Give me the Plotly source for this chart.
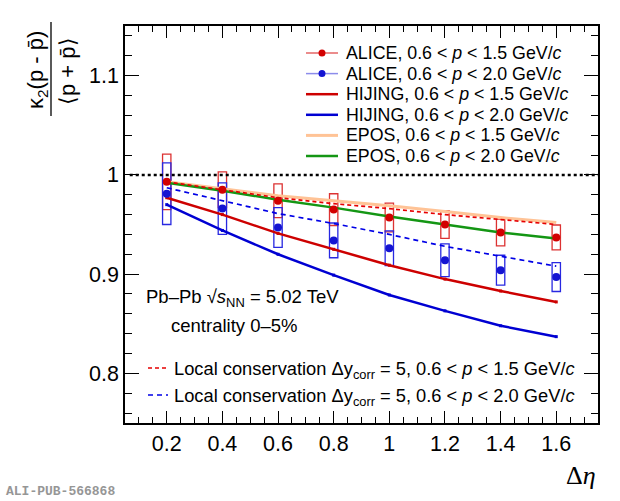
import plotly.graph_objs as go

# delta eta bins
deta = [0.2, 0.4, 0.6, 0.8, 1.0, 1.2, 1.4, 1.6]

# ALICE data, two momentum ranges, with systematic uncertainties
alice_15 = [0.993, 0.985, 0.974, 0.965, 0.957, 0.950, 0.942, 0.937]
alice_15_sys = [0.028, 0.018, 0.017, 0.016, 0.0145, 0.014, 0.0135, 0.0125]
alice_20 = [0.981, 0.966, 0.947, 0.934, 0.926, 0.914, 0.904, 0.897]
alice_20_sys = [0.031, 0.026, 0.020, 0.0175, 0.0175, 0.0165, 0.015, 0.0145]

# models
hijing_15 = [0.977, 0.960, 0.941, 0.925, 0.909, 0.895, 0.883, 0.872]
hijing_20 = [0.970, 0.944, 0.920, 0.899, 0.879, 0.863, 0.848, 0.837]
epos_15 = [0.993, 0.986, 0.979, 0.974, 0.969, 0.963, 0.957, 0.952]
epos_20 = [0.992, 0.984, 0.975, 0.967, 0.958, 0.950, 0.942, 0.936]
lc_15 = [0.993, 0.985, 0.977, 0.971, 0.966, 0.960, 0.955, 0.950]
lc_20 = [0.987, 0.974, 0.961, 0.951, 0.940, 0.928, 0.918, 0.908]

FONT = "Liberation Sans"
RED = "rgb(210,0,0)"
BLUE = "rgb(20,20,210)"
box_hw = 0.015

# plot area in pixels (used to place legend / labels in paper coords)
L, R, T, B = 125, 598, 26, 423
def px(x):
    return (x - L) / (R - L)
def py(y):
    return (B - y) / (B - T)

lbl15 = "0.6 < <i>p</i> < 1.5 GeV/<i>c</i>"
lbl20 = "0.6 < <i>p</i> < 2.0 GeV/<i>c</i>"

styles = {
    "alice15": dict(color="rgb(235,140,140)", width=2),
    "alice20": dict(color="rgb(140,140,235)", width=1.5),
    "hijing15": dict(color="rgb(205,0,0)", width=2.5),
    "hijing20": dict(color="rgb(0,0,210)", width=2.5),
    "epos15": dict(color="rgb(255,195,150)", width=3),
    "epos20": dict(color="rgb(20,150,20)", width=2.5),
    "lc15": dict(color="rgb(230,0,0)", width=1.7, dash="4px,3px"),
    "lc20": dict(color="rgb(0,0,230)", width=1.7, dash="5px,4px"),
}

data = []
data.append(go.Scatter(x=deta, y=hijing_15, mode="lines+markers", line=styles["hijing15"],
                       marker=dict(size=3, symbol="square")))
data.append(go.Scatter(x=deta, y=hijing_20, mode="lines+markers", line=styles["hijing20"],
                       marker=dict(size=3, symbol="square")))
data.append(go.Scatter(x=deta, y=epos_15, mode="lines", line=styles["epos15"]))
data.append(go.Scatter(x=deta, y=epos_20, mode="lines", line=styles["epos20"]))
data.append(go.Scatter(x=deta, y=lc_15, mode="lines", line=styles["lc15"]))
data.append(go.Scatter(x=deta, y=lc_20, mode="lines", line=styles["lc20"]))
data.append(go.Scatter(x=deta, y=alice_15, mode="markers", marker=dict(color=RED, size=8)))
data.append(go.Scatter(x=deta, y=alice_20, mode="markers", marker=dict(color=BLUE, size=8)))

shapes = []
# systematic boxes
for xs, ys, es, col in [(deta, alice_15, alice_15_sys, "rgb(220,50,50)"),
                        (deta, alice_20, alice_20_sys, "rgb(40,40,225)")]:
    for x, y, e in zip(xs, ys, es):
        shapes.append(dict(type="rect", xref="x", yref="y", x0=x - box_hw, x1=x + box_hw,
                           y0=y - e, y1=y + e, line=dict(color=col, width=1.3), layer="below"))
# unity line
shapes.append(dict(type="line", xref="paper", yref="y", x0=0.01, x1=1, y0=1, y1=1,
                   line=dict(color="black", width=2.5, dash="dot")))
# y title fraction bar
shapes.append(dict(type="line", xref="paper", yref="paper", x0=px(51), x1=px(51), y0=py(22), y1=py(116),
                   line=dict(color="black", width=1.3)))

annotations = [
    dict(text="\u03ba<sub>2</sub>(p - p\u0304)", x=px(37), y=py(70), xref="paper", yref="paper",
         xanchor="center", yanchor="middle", textangle=-90, showarrow=False,
         font=dict(family=FONT, size=22, color="black")),
    dict(text="\u27e8p + p\u0304\u27e9", x=px(67), y=py(71), xref="paper", yref="paper",
         xanchor="center", yanchor="middle", textangle=-90, showarrow=False,
         font=dict(family=FONT, size=22, color="black")),
    dict(text="Pb\u2013Pb \u221a<i>s</i><sub>NN</sub> = 5.02 TeV", x=px(144), y=py(298), xref="paper",
         yref="paper", xanchor="left", yanchor="middle", showarrow=False,
         font=dict(family=FONT, size=18.5, color="black")),
    dict(text="centrality 0\u20135%", x=px(169), y=py(325), xref="paper", yref="paper",
         xanchor="left", yanchor="middle", showarrow=False, font=dict(family=FONT, size=18.5, color="black")),
    dict(text="\u0394<i>\u03b7</i>", x=1.0, y=py(475), xref="paper", yref="paper",
         xanchor="right", yanchor="middle", showarrow=False,
         font=dict(family="Liberation Serif", size=26, color="black")),
    dict(text="<b>ALI-PUB-566868</b>", x=px(4), y=py(492), xref="paper", yref="paper",
         xanchor="left", yanchor="middle", showarrow=False,
         font=dict(family="Liberation Mono", size=13, color="rgb(150,150,150)")),
]

# hand-drawn legends (row spacing of the original is tighter than plotly's legend)
legend_rows = [
    ("ALICE, " + lbl15, "alice15", RED),
    ("ALICE, " + lbl20, "alice20", BLUE),
    ("HIJING, " + lbl15, "hijing15", None),
    ("HIJING, " + lbl20, "hijing20", None),
    ("EPOS, " + lbl15, "epos15", None),
    ("EPOS, " + lbl20, "epos20", None),
]
for i, (txt, key, mcol) in enumerate(legend_rows):
    yr = 53 + 20.6 * i
    shapes.append(dict(type="line", xref="paper", yref="paper", x0=px(306), x1=px(338),
                       y0=py(yr), y1=py(yr), line=styles[key]))
    if mcol:
        shapes.append(dict(type="circle", xref="paper", yref="paper", xsizemode="pixel",
                           ysizemode="pixel", xanchor=px(322), yanchor=py(yr),
                           x0=-3.5, x1=3.5, y0=-3.5, y1=3.5, fillcolor=mcol, line=dict(width=0)))
    annotations.append(dict(text=txt, x=px(344), y=py(yr), xref="paper", yref="paper",
                            xanchor="left", yanchor="middle", showarrow=False,
                            font=dict(family=FONT, size=17.8, color="black")))

lc_rows = [
    ("Local conservation \u0394y<sub>corr</sub> = 5, " + lbl15, "lc15"),
    ("Local conservation \u0394y<sub>corr</sub> = 5, " + lbl20, "lc20"),
]
for i, (txt, key) in enumerate(lc_rows):
    yr = 368 + 27 * i
    st = dict(styles[key])
    st["width"] = 1.5
    shapes.append(dict(type="line", xref="paper", yref="paper", x0=px(148), x1=px(168),
                       y0=py(yr), y1=py(yr), line=st))
    annotations.append(dict(text=txt, x=px(172), y=py(yr + 2), xref="paper", yref="paper",
                            xanchor="left", yanchor="middle", showarrow=False,
                            font=dict(family=FONT, size=18.3, color="black")))

axis_common = dict(showline=True, linecolor="black", linewidth=1.5, mirror="ticks",
                   ticks="inside", tickcolor="black", showgrid=False, zeroline=False,
                   tickfont=dict(family=FONT, size=21.5, color="black"))

layout = go.Layout(
    width=620, height=501,
    margin=dict(l=L, r=620 - R, t=T, b=501 - B),
    plot_bgcolor="white", paper_bgcolor="white",
    showlegend=False,
    xaxis=dict(range=[0.05, 1.75], dtick=0.2, tick0=0, ticklen=12,
               minor=dict(dtick=0.05, ticklen=6, ticks="inside", tickcolor="black"), **axis_common),
    yaxis=dict(range=[0.75, 1.15], dtick=0.1, tick0=0, ticklen=14,
               minor=dict(dtick=0.02, ticklen=7, ticks="inside", tickcolor="black"), **axis_common),
    shapes=shapes,
    annotations=annotations,
)

fig = go.Figure(data=data, layout=layout)
fig.write_html("out.html", config={"displayModeBar": False},
               post_script="document.body.style.margin='0px';")
